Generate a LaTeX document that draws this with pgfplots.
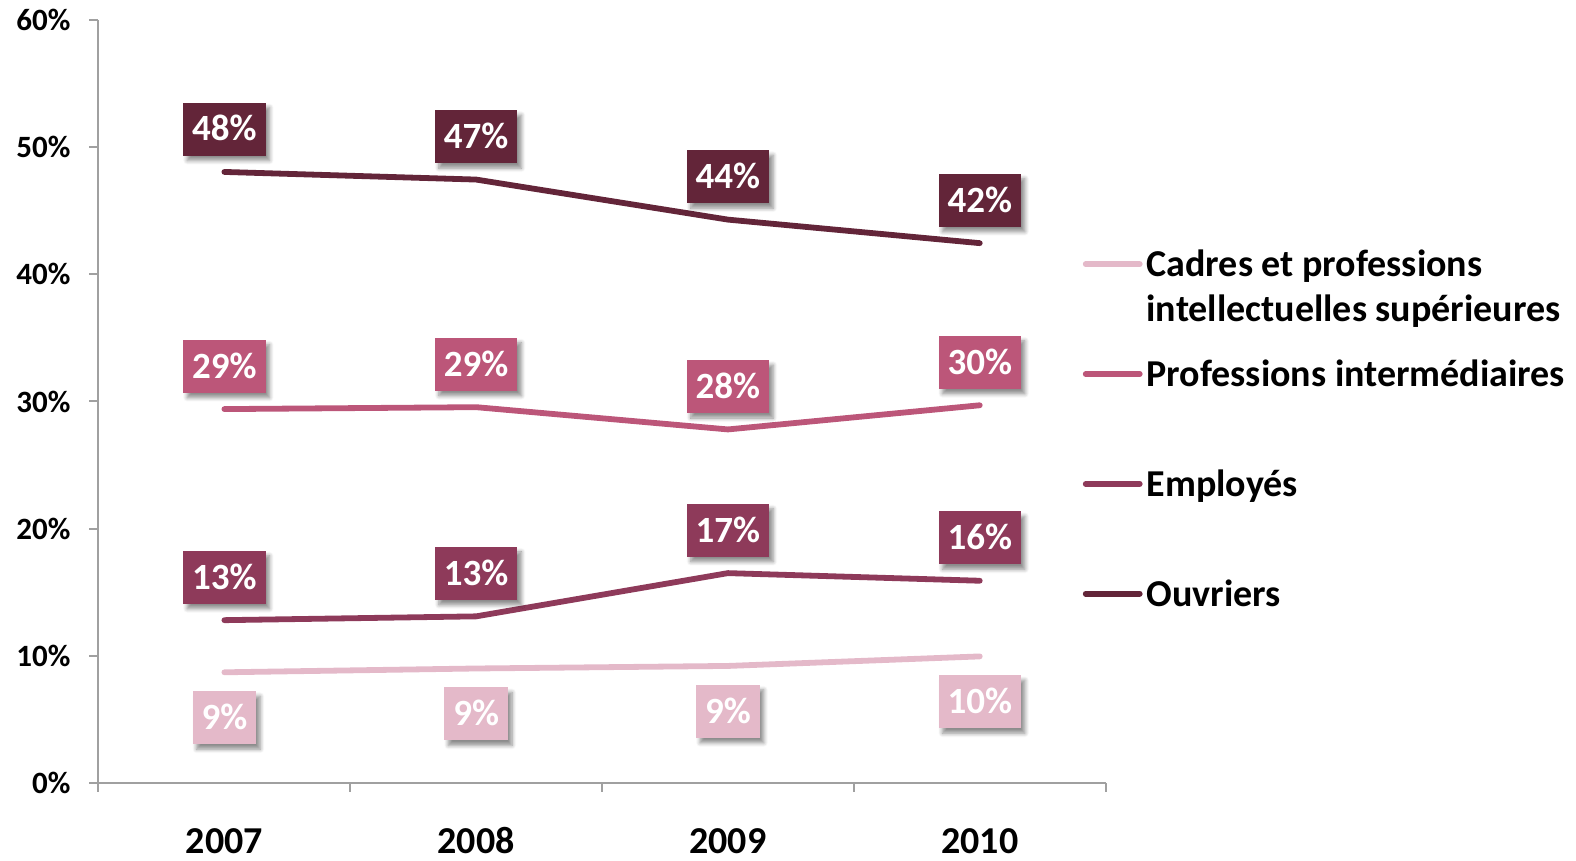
\documentclass[border=0pt]{standalone}
\usepackage{pgfplots}
\pgfplotsset{compat=1.18}
\usepackage{fontspec}
\setmainfont{Carlito}
\usetikzlibrary{shadows.blur}

\definecolor{cCadres}{HTML}{E4B9C9}
\definecolor{cProf}{HTML}{BC5679}
\definecolor{cEmpl}{HTML}{8E3A5A}
\definecolor{cOuvr}{HTML}{632539}
\definecolor{axgray}{HTML}{A0A0A0}

% legend text with no height/depth so that rows are evenly spaced
\newcommand\lt[1]{\raisebox{-7pt}[0pt][0pt]{#1}}

\pgfplotsset{
  lbl/.style={
    nodes near coords,
    point meta=explicit symbolic,
    every node near coord/.append style={
      fill=#1, text=white, font=\fontsize{18.5}{20}\selectfont\bfseries,
      inner xsep=4.5pt, inner ysep=7.3pt, text height=11.9pt, text depth=0pt,
      blur shadow={shadow xshift=2pt, shadow yshift=-2.5pt, shadow blur radius=2pt,
        shadow blur steps=6, shadow opacity=45},
    },
  },
  above lbl/.style={every node near coord/.append style={anchor=south, yshift=6.75pt}},
  below lbl/.style={every node near coord/.append style={anchor=north, yshift=-8pt}},
}

\begin{document}
\begin{tikzpicture}
\begin{axis}[
    name=ax,
    scale only axis,
    width=503.6pt, height=381.5pt,
    xmin=0, xmax=4,
    ymin=0, ymax=60,
    axis x line*=bottom,
    axis y line*=left,
    axis line style={draw=axgray, line width=1pt, -},
    tick style={draw=axgray, line width=1pt},
    tick align=outside,
    major tick length=4.5pt,
    xtick={0,1,2,3,4},
    xticklabels={,,,,},
    extra x ticks={0.5,1.5,2.5,3.5},
    extra x tick labels={2007,2008,2009,2010},
    extra x tick style={major tick length=0pt,
      tick label style={font=\fontsize{19}{22}\selectfont\bfseries,
        text height=12.5pt, text depth=0pt, anchor=north, yshift=-19.5pt}},
    ytick={0,10,20,30,40,50,60},
    yticklabels={0\%,10\%,20\%,30\%,40\%,50\%,60\%},
    yticklabel style={font=\fontsize{15.5}{18}\selectfont\bfseries, xshift=-6pt},
    legend style={draw=none, fill=none, at={(0.971,0.6928)}, anchor=north west,
      font=\fontsize{19}{22.5}\selectfont\bfseries, row sep=49.4pt,
      /tikz/every even column/.append style={column sep=-1.5pt}},
    legend cell align=left,
    legend image code/.code={\draw[#1, line cap=round] (0pt,0pt) -- (27pt,0pt);},
    clip=false,
]

\addplot[cCadres, line width=2.9pt, line cap=round, lbl=cCadres, below lbl]
  coordinates {(0.5,8.7)[9\%] (1.5,9.0)[9\%] (2.5,9.2)[9\%] (3.5,9.95)[10\%]};
\addlegendentry{\lt{\begin{tabular}[t]{@{}l@{}}Cadres et professions\\intellectuelles supérieures\end{tabular}}}

\addplot[cProf, line width=2.9pt, line cap=round, lbl=cProf, above lbl]
  coordinates {(0.5,29.4)[29\%] (1.5,29.55)[29\%] (2.5,27.8)[28\%] (3.5,29.7)[30\%]};
\addlegendentry{\lt{Professions intermédiaires}}

\addplot[cEmpl, line width=2.9pt, line cap=round, lbl=cEmpl, above lbl]
  coordinates {(0.5,12.8)[13\%] (1.5,13.1)[13\%] (2.5,16.5)[17\%] (3.5,15.9)[16\%]};
\addlegendentry{\lt{Employés}}

\addplot[cOuvr, line width=2.9pt, line cap=round, lbl=cOuvr, above lbl]
  coordinates {(0.5,48.05)[48\%] (1.5,47.45)[47\%] (2.5,44.3)[44\%] (3.5,42.45)[42\%]};
\addlegendentry{\lt{Ouvriers}}

\end{axis}
\pgfresetboundingbox
\path ([xshift=-49.25pt, yshift=-39pt]ax.south west) rectangle ([xshift=235.2pt, yshift=10pt]ax.north east);
\end{tikzpicture}
\end{document}
